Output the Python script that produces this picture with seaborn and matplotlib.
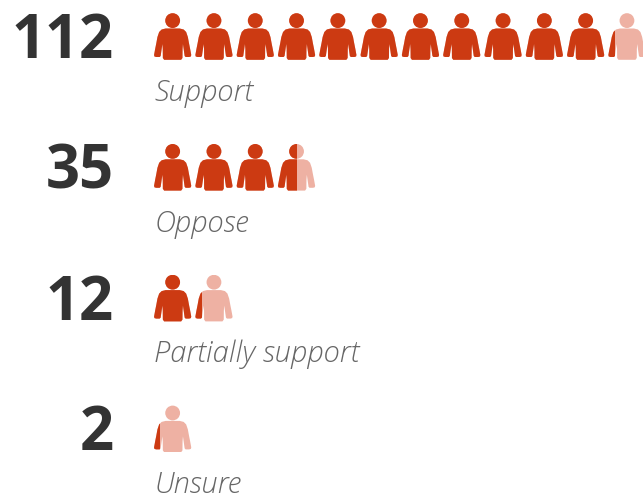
import matplotlib.pyplot as plt
import numpy as np
import pandas as pd
import seaborn as sns
from matplotlib.path import Path

# The data
labels = ["Support", "Oppose", "Partially support", "Unsure"]
counts = [112, 35, 12, 2]
people_per_icon = 10

df = pd.DataFrame({"Response": labels, "Count": counts})
df["Filled"] = df["Count"] / people_per_icon
df["Slots"] = np.ceil(df["Filled"])

dark = "#CC3A12"
pale = "#EEB1A3"

sns.set_theme(style="white")
plt.rcParams["font.family"] = ["Open Sans", "DejaVu Sans"]

# Axes fill the whole picture, x is in icons and y in rows
W, H = 643, 493
pitch_x, pitch_y = 41.3, 130.8
icon_w, icon_h = 37.0, 47.0
x0, y0 = 152, 36.5

fig = plt.figure(figsize=(W / 100, H / 100), dpi=100)
ax = fig.add_axes([0, 0, 1, 1])

sns.barplot(data=df, x="Slots", y="Response", orient="h", color=pale, saturation=1,
            width=icon_h / pitch_y, linewidth=0, ax=ax)
sns.barplot(data=df, x="Filled", y="Response", orient="h", color=dark, saturation=1,
            width=icon_h / pitch_y, linewidth=0, ax=ax)

ax.set_xlim(-x0 / pitch_x, (W - x0) / pitch_x)
ax.set_ylim((H - y0) / pitch_y, -y0 / pitch_y)
ax.set_axis_off()

# Right half of the person outline: distance from the middle, distance from the icon top
half = [(0, 15.5), (7, 15.5), (11, 16.5), (13.5, 19), (15.2, 24), (16.3, 30), (17.5, 36),
        (18.6, 42), (18.2, 43.5), (16.5, 44), (13, 44), (12, 43), (11, 36), (10.3, 31),
        (9.9, 36), (9.8, 45), (8.5, 46.8), (0, 46.8)]


def person(slot, row):
    pts = np.array(half, dtype=float)
    mirror = pts[::-1] * [-1, 1]
    body = np.vstack([pts, mirror[1:-1]]) + [icon_w / 2, 0]
    body_path = Path(np.vstack([body, body[:1]]), closed=True)
    head_path = Path.circle((icon_w / 2, 7.6), 7.4)
    left = (pitch_x - icon_w) / 2
    placed = []
    for p in (body_path, head_path):
        xs = slot + (p.vertices[:, 0] + left) / pitch_x
        ys = row + (p.vertices[:, 1] - icon_h / 2) / pitch_y
        placed.append(Path(np.column_stack([xs, ys]), p.codes))
    return placed


shapes = []
for row, slots in enumerate(df["Slots"].astype(int)):
    for slot in range(slots):
        shapes += person(slot, row)
icons = Path.make_compound_path(*shapes)

for bar in ax.patches:
    bar.set_clip_path(icons, ax.transData)

# Big numbers on the left and the italic captions under the icons
for row, (label, count) in enumerate(zip(labels, counts)):
    ax.text(-38.5 / pitch_x, row + 6 / pitch_y, str(count), ha="right", va="center",
            fontsize=43, fontweight="bold", color="#333333")
    ax.text(2.5 / pitch_x, row + 56.5 / pitch_y, label, ha="left", va="center",
            fontsize=21, fontstyle="italic", fontweight="light", color="#666666")

sns.despine(left=True, bottom=True)
plt.savefig("out.png", dpi=100)
